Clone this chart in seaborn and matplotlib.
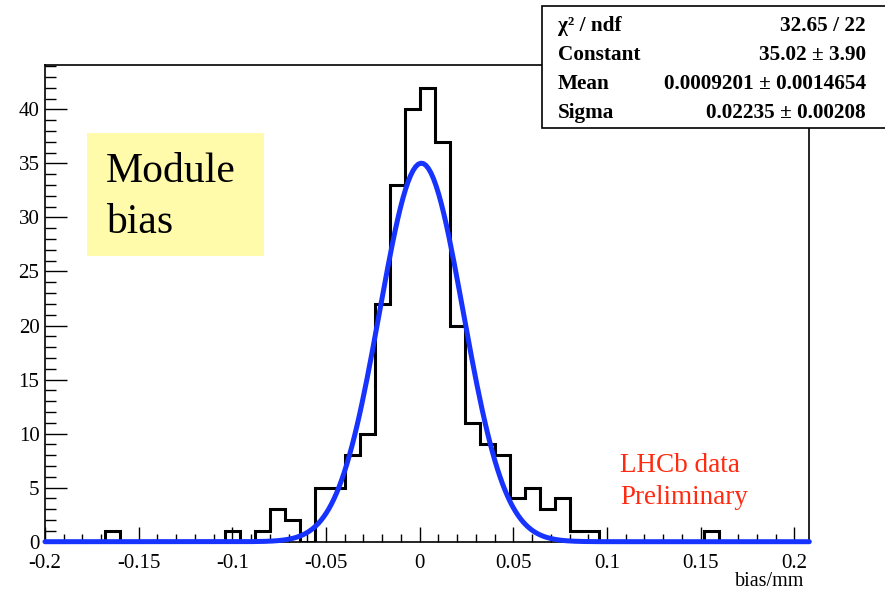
import numpy as np
import pandas as pd
import matplotlib
matplotlib.use("Agg")
import matplotlib.pyplot as plt
from matplotlib.patches import Rectangle
from matplotlib.ticker import MultipleLocator, FixedLocator, FixedFormatter
import seaborn as sns

# Histogram of module bias (51 bins of 0.008 mm starting at -0.2 mm)
bin_low = -0.2
bin_width = 0.008
counts = [0, 0, 0, 0, 1, 0, 0, 0, 0, 0,
          0, 0, 1, 0, 1, 3, 2, 0, 5, 5,
          8, 10, 22, 33, 40, 42, 37, 20, 11, 9,
          8, 4, 5, 3, 4, 1, 1, 0, 0, 0,
          0, 0, 0, 0, 1, 0, 0, 0, 0, 0,
          0]

# Gaussian fit results
fit_chi2 = 32.65
fit_ndf = 22
fit_constant, fit_constant_err = 35.02, 3.90
fit_mean, fit_mean_err = 0.0009201, 0.0014654
fit_sigma, fit_sigma_err = 0.02235, 0.00208

x_tick_values = [-0.2, -0.15, -0.1, -0.05, 0.0, 0.05, 0.1, 0.15, 0.2]
x_tick_labels = ["-0.2", "-0.15", "-0.1", "-0.05", "0", "0.05", "0.1", "0.15", "0.2"]
y_tick_values = [0, 5, 10, 15, 20, 25, 30, 35, 40]

stat_names = ["χ² / ndf", "Constant", "Mean", "Sigma"]
stat_values = [
    f"{fit_chi2:.2f} / {fit_ndf}",
    f"{fit_constant:.2f} ± {fit_constant_err:.2f}",
    f"{fit_mean:.7f} ± {fit_mean_err:.7f}",
    f"{fit_sigma:.5f} ± {fit_sigma_err:.5f}",
]

sns.set_theme(style="white")
plt.rcParams["font.family"] = ["Liberation Serif", "DejaVu Serif"]

W, H = 885, 589
fig = plt.figure(figsize=(W / 100, H / 100), dpi=100)
fig.patch.set_facecolor("white")

ax_left, ax_right, ax_bottom, ax_top = 45, 809.3, 541.7, 65
ax = fig.add_axes([ax_left / W, 1 - ax_bottom / H,
                   (ax_right - ax_left) / W, (ax_bottom - ax_top) / H])
ax.set_facecolor("white")

n_bins = len(counts)
edges = bin_low + bin_width * np.arange(n_bins + 1)
centers = 0.5 * (edges[:-1] + edges[1:])
hist_df = pd.DataFrame({"bias": centers, "entries": np.asarray(counts, dtype=float)})

sns.histplot(data=hist_df, x="bias", weights="entries", bins=n_bins,
             binrange=(edges[0], edges[-1]), element="step", fill=False,
             color="black", linewidth=2.2, ax=ax)
for ln in ax.lines:
    ln.set_solid_joinstyle("miter")

# Fitted Gaussian evaluated from the fit parameters
xs = np.linspace(edges[0], edges[-1], 300)
ys = fit_constant * np.exp(-0.5 * ((xs - fit_mean) / fit_sigma) ** 2)
sns.lineplot(x=xs, y=ys, color="#1733ff", linewidth=3.6, estimator=None,
             sort=False, ax=ax)
ax.lines[-1].set_clip_on(False)
ax.lines[-1].set_zorder(5)

ax.set_xlim(edges[0], edges[-1])
ax.set_ylim(0, 1.05 * max(counts))
ax.set_xlabel("")
ax.set_ylabel("")

ax.xaxis.set_major_locator(FixedLocator(x_tick_values))
ax.xaxis.set_major_formatter(FixedFormatter(x_tick_labels))
ax.xaxis.set_minor_locator(MultipleLocator(0.01))
ax.yaxis.set_major_locator(FixedLocator(y_tick_values))
ax.yaxis.set_minor_locator(MultipleLocator(1))

ax.tick_params(axis="both", which="both", direction="in", color="black",
               width=1.0, labelsize=15, labelcolor="black",
               bottom=True, left=True, top=False, right=False)
ax.tick_params(axis="x", which="major", length=10.8, pad=8.5)
ax.tick_params(axis="x", which="minor", length=5.8)
ax.tick_params(axis="y", which="major", length=15.8, pad=4)
ax.tick_params(axis="y", which="minor", length=7.7)
for s in ax.spines.values():
    s.set_visible(True)
    s.set_color("black")
    s.set_linewidth(1.2)

# Axis title
fig.text(804 / W, 1 - 585.5 / H, "bias/mm", ha="right", va="baseline",
         fontsize=14.5, color="black")

# Label box
fig.patches.append(Rectangle((87.3 / W, 1 - 255.7 / H), (264 - 87.3) / W,
                             (255.7 - 133.3) / H, transform=fig.transFigure,
                             facecolor="#fffbaa", edgecolor="none", zorder=2))
fig.text(106 / W, 1 - 181.7 / H, "Module", ha="left", va="baseline",
         fontsize=30, color="black", zorder=3)
fig.text(106 / W, 1 - 233.3 / H, "bias", ha="left", va="baseline",
         fontsize=30, color="black", zorder=3)

# Experiment tag
fig.text(620 / W, 1 - 472.3 / H, "LHCb data", ha="left", va="baseline",
         fontsize=19.5, color="#ff2a10")
fig.text(620 / W, 1 - 504 / H, "Preliminary", ha="left", va="baseline",
         fontsize=19.5, color="#ff2a10")

# Fit statistics box
fig.patches.append(Rectangle((541.5 / W, 1 - 127.5 / H), 0.5, (127.5 - 6) / H,
                             transform=fig.transFigure, facecolor="white",
                             edgecolor="black", linewidth=1.2, zorder=5))
row_baselines = [31, 60, 89, 118]
for name, value, yb in zip(stat_names, stat_values, row_baselines):
    fig.text(558 / W, 1 - yb / H, name, ha="left", va="baseline",
             fontsize=15.3, fontweight="bold", color="black", zorder=6)
    fig.text(866 / W, 1 - yb / H, value, ha="right", va="baseline",
             fontsize=15.3, fontweight="bold", color="black", zorder=6)

fig.savefig("out.png", dpi=100)
